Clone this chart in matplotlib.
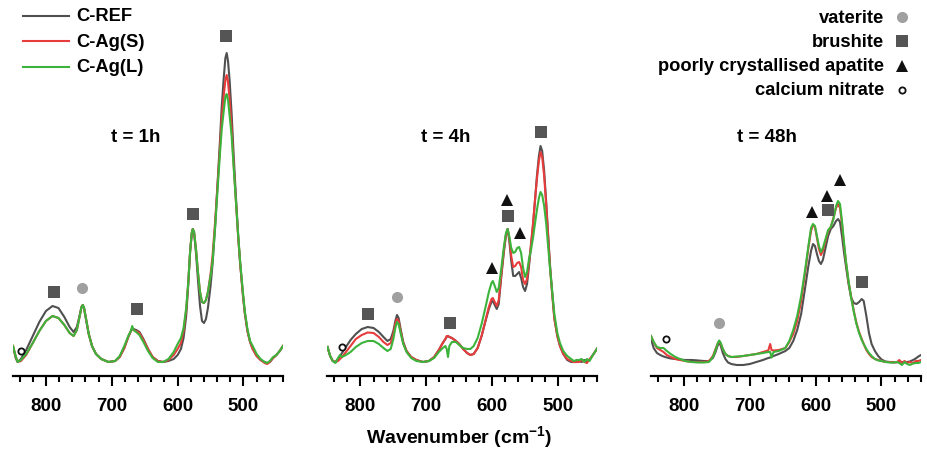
import numpy as np
import matplotlib
matplotlib.use('Agg')
import matplotlib.pyplot as plt
from matplotlib.ticker import MultipleLocator
from matplotlib.lines import Line2D

plt.rcParams['font.family'] = ['Liberation Sans', 'DejaVu Sans']
plt.rcParams['font.weight'] = 'bold'
plt.rcParams['mathtext.fontset'] = 'custom'
plt.rcParams['mathtext.rm'] = 'Liberation Sans:bold'
plt.rcParams['mathtext.bf'] = 'Liberation Sans:bold'

# ---- data: wavenumber (cm-1) and intensity (a.u.) for each panel ----
wn_1h = [850, 846, 843, 838, 830, 820, 810, 800, 790, 781, 772, 764, 758, 753, 749, 746, 744, 742,
         739, 735, 730, 724, 716, 705, 695, 688, 681, 675, 671, 669, 667, 663, 658, 652, 645, 638,
         630, 622, 614, 606, 600, 595, 591, 587, 584, 581, 578.5, 577, 575, 572, 569, 566, 563, 560,
         557, 554, 550, 547, 543, 540, 536, 533, 530, 527.5, 525.5, 523.5, 521, 518, 515, 512, 508,
         505, 501, 498, 494, 490, 486, 480, 474, 468, 464, 460, 455, 450, 445, 440]
ref_1h = [30, 18, 14, 17, 26, 40, 54, 65, 70, 68, 59, 49, 44, 49, 60, 69, 71, 67,
          56, 42, 30, 22, 17, 14, 15, 19, 28, 39, 45, 48, 47, 46, 44, 37, 27, 19,
          15, 14, 15, 17, 21, 27, 38, 60, 90, 125, 143, 147, 143, 122, 95, 70, 55, 53,
          57, 68, 90, 112, 150, 185, 232, 270, 298, 318, 323, 315, 295, 262, 222, 185, 140,
          112, 82, 63, 45, 34, 27, 20, 16, 14, 13, 14, 18, 21, 25, 30]
agS_1h = [30, 20, 14, 15, 21, 33, 45, 55, 60, 58, 51, 43, 40, 46, 59, 69, 71, 68,
          57, 42, 30, 22, 17, 14, 15, 19, 28, 39, 45, 47, 46, 45, 43, 36, 27, 19,
          15, 14, 16, 21, 27, 33, 45, 66, 92, 125, 143, 147, 144, 126, 103, 84, 74, 73,
          76, 84, 102, 120, 155, 185, 225, 258, 280, 296, 301, 294, 276, 248, 212, 180, 138,
          112, 82, 63, 45, 34, 27, 20, 16, 13, 12, 14, 18, 21, 25, 30]
agL_1h = [30, 20, 14, 16, 22, 33, 45, 55, 60, 58, 51, 43, 40, 46, 59, 69, 71, 68,
          57, 42, 30, 22, 17, 14, 15, 20, 30, 40, 45, 50, 46, 44, 41, 34, 25, 18,
          14, 14, 17, 24, 32, 38, 48, 68, 92, 125, 143, 147, 144, 126, 103, 84, 74, 73,
          76, 84, 100, 114, 150, 180, 220, 247, 265, 279, 282, 276, 260, 240, 210, 180, 140,
          114, 85, 65, 47, 35, 30, 22, 17, 14, 13, 15, 19, 21, 25, 30]

wn_4h = [850, 846, 842, 838, 834, 831, 828, 822, 815, 807, 798, 789, 780, 772, 765, 759, 754, 750,
         747, 744.5, 742, 739, 735, 730, 723, 715, 705, 696, 688, 681, 675, 671, 669, 667, 665, 661,
         655, 650, 644, 638, 633, 628, 622, 616, 610, 605, 601, 599, 596, 593, 590, 586, 582, 579,
         576.5, 574, 571, 568, 565, 562, 559, 556, 553, 550, 547, 544, 541, 538, 535, 532, 529,
         526.5, 524, 521, 518, 515, 512, 509, 505.5, 501, 497, 492, 486, 480, 476, 472, 468, 464,
         460, 456, 452, 448, 444, 440]
ref_4h = [29, 20, 15, 14, 17, 20, 23, 29, 36, 42, 47, 49, 48, 44, 39, 35, 37, 45,
          55, 61, 58, 47, 34, 25, 19, 16, 14, 15, 19, 26, 33, 37, 39, 40, 39, 38,
          35, 32, 27, 23, 21, 22, 28, 40, 55, 67, 74, 75, 71, 67, 72, 100, 125, 141,
          147, 136, 115, 100, 100, 102, 104, 98, 89, 85, 92, 110, 130, 150, 175, 200, 220,
          230, 225, 205, 175, 142, 110, 85, 58, 40, 30, 22, 16, 14, 14, 14, 15, 14,
          16, 15, 16, 20, 24, 28]
agS_4h = [29, 20, 15, 14, 15, 17, 19, 24, 30, 37, 41, 43.5, 43, 39, 34, 31, 33, 42,
          52, 57, 55, 45, 33, 25, 19, 16, 14, 15, 19, 26, 33, 37, 40, 40, 39, 38,
          35, 32, 27, 23, 21, 22, 28, 40, 56, 69, 77, 78, 74, 70, 76, 102, 127, 141,
          147, 138, 120, 109, 110, 113, 114, 109, 96, 92, 97, 113, 132, 152, 175, 197, 215,
          224, 219, 200, 172, 140, 108, 83, 57, 40, 30, 22, 17, 15, 14, 14, 14, 16,
          14, 13, 17, 20, 24, 28]
agL_4h = [29, 20, 15, 13, 18, 21, 19, 21, 24, 29, 33, 35, 35, 32, 28, 25, 27, 37,
          48, 54, 52, 43, 32, 24, 18, 15, 14, 15, 18, 24, 28, 30, 27, 19, 30, 34,
          34, 31, 28, 27, 27, 30, 38, 52, 69, 84, 93, 95, 90, 84, 88, 108, 130, 143,
          147, 140, 128, 123, 124, 128, 129, 123, 108, 99, 104, 117, 126, 138, 152, 166, 178,
          184, 181, 170, 153, 130, 107, 86, 62, 43, 33, 25, 20, 17, 15, 16, 16, 17,
          14, 17, 15, 20, 24, 28]

wn_48h = [850, 846, 841, 836, 831, 826, 820, 813, 806, 798, 788, 778, 770, 762, 756, 752, 749, 746.5,
          744, 741, 737, 733, 728, 720, 710, 700, 690, 680, 672, 669, 667, 664, 656, 646, 640, 634,
          628, 622, 616, 611, 607, 604, 601, 598, 595, 592, 589, 585, 581, 577, 573, 569, 566, 563,
          560, 557, 554, 550, 546, 542, 538, 534, 530, 527, 523, 519, 515, 510, 505, 500, 494, 488,
          482, 477, 473, 469, 465, 461, 457, 452, 448, 444, 440]
ref_48h = [37, 28, 23, 21, 19.5, 18.5, 17.5, 17, 16.5, 16, 16, 15.5, 15, 15, 18, 24, 30, 34,
           30, 23, 17, 13.5, 12, 11, 11, 12, 14, 16, 18, 18.5, 19, 20, 22, 25, 28, 35,
           46, 62, 88, 110, 125, 132, 130, 122, 115, 112, 116, 128, 140, 147, 150, 155, 157, 154,
           140, 124, 110, 92, 78, 73, 72, 74, 77, 75, 60, 43, 32, 25, 20, 16.5, 14.5, 14,
           13.5, 14, 14, 14, 13.5, 14, 14.5, 16, 17.5, 19.5, 21]
agS_48h = [40, 34, 28, 26, 24, 21, 19, 17, 16, 15, 14, 14, 14, 15, 20, 27, 32, 35,
           32, 27, 22, 20, 19, 19, 20, 21, 22, 24, 25.5, 32, 26, 25.5, 26, 28, 34, 42,
           55, 75, 103, 128, 145, 151, 149, 138, 127, 121, 125, 135, 145, 149, 158, 168, 172, 168,
           152, 132, 114, 94, 79, 65, 53, 44, 37, 32, 26, 22, 19, 17, 16, 15, 14, 14,
           14, 13.5, 16, 13, 15, 13, 14, 13, 15, 15, 16]
agL_48h = [40, 34, 29, 28, 28, 25, 22, 19, 17, 15, 14, 13.5, 13.5, 14, 19, 26, 32, 35.5,
           33, 27, 22, 20, 19, 19.5, 20, 21, 22, 23, 24, 24, 18.5, 24, 25, 28, 35, 46,
           60, 80, 106, 130, 148, 152, 150, 140, 130, 124, 128, 137, 146, 149, 157, 170, 175, 172,
           155, 134, 115, 95, 78, 64, 52, 43, 36, 32, 27, 23, 20, 17, 15.5, 15, 14, 13.5,
           13.5, 14, 13, 11, 14, 12, 11, 12.5, 13, 13, 14]

# phase markers: (wavenumber, height)
brushite = [[(787, 84), (662, 67), (577, 162), (526.5, 340)],
            [(788, 62), (664, 53), (576.3, 160), (526.2, 244)],
            [(580.6, 166), (529.3, 94)]]
vaterite = [[(744.7, 88)], [(744, 79)], [(746.2, 53)]]
apatite = [[], [(599.7, 108), (577.8, 176), (557.6, 143)],
           [(605.9, 164), (583, 180), (562.7, 196)]]
nitrate = [[(838, 25)], [(828.4, 29)], [(827.6, 37)]]

panel_titles = ['t = 1h', 't = 4h', 't = 48h']
title_wn = [663, 671, 674]
series_names = ['C-REF', 'C-Ag(S)', 'C-Ag(L)']
series_colors = ['#505050', '#e83c3c', '#3cb43c']
phase_names = ['vaterite', 'brushite', 'poorly crystallised apatite', 'calcium nitrate']

panels = [(wn_1h, [ref_1h, agS_1h, agL_1h]),
          (wn_4h, [ref_4h, agS_4h, agL_4h]),
          (wn_48h, [ref_48h, agS_48h, agL_48h])]

W, H = 928, 452
fig = plt.figure(figsize=(W / 100, H / 100), dpi=100)
lefts = [13, 327.5, 651]
axw = 270
ax_bottom = 377

sq_color = '#555555'
for i, (wn, ys) in enumerate(panels):
    ax = fig.add_axes([lefts[i] / W, (H - ax_bottom) / H, axw / W, ax_bottom / H])
    for y, c in zip(ys, series_colors):
        ax.plot(wn, y, color=c, lw=1.5)
    for (x, y) in brushite[i]:
        ax.plot(x, y, 's', color=sq_color, ms=8, mew=0)
    for (x, y) in vaterite[i]:
        ax.plot(x, y, 'o', color='#a0a0a0', ms=8, mew=0)
    for (x, y) in apatite[i]:
        ax.plot(x, y, '^', color='#111111', ms=9, mew=0)
    for (x, y) in nitrate[i]:
        ax.plot(x, y, 'o', mfc='white', mec='#111111', ms=4.5, mew=1.3)
    ax.set_xlim(850, 440)
    ax.set_ylim(0, ax_bottom)
    for s in ['left', 'right', 'top']:
        ax.spines[s].set_visible(False)
    ax.spines['bottom'].set_linewidth(1.6)
    ax.set_yticks([])
    ax.xaxis.set_major_locator(MultipleLocator(100))
    ax.xaxis.set_minor_locator(MultipleLocator(20))
    ax.tick_params(axis='x', which='major', length=7, width=1.5, labelsize=13.5, pad=8)
    ax.tick_params(axis='x', which='minor', length=4.5, width=1.5)
    for lab in ax.get_xticklabels():
        lab.set_fontweight('bold')
    ax.text(title_wn[i], 239, panel_titles[i], ha='center', va='center',
            fontsize=13.5, fontweight='bold')
    ax.patch.set_alpha(0)

# overlay in pixel coordinates for legends and axis label
ov = fig.add_axes([0, 0, 1, 1])
ov.set_xlim(0, W)
ov.set_ylim(H, 0)
ov.axis('off')
ov.patch.set_alpha(0)

for k, (name, c) in enumerate(zip(series_names, series_colors)):
    yy = 16.7 + 25.5 * k
    ov.add_line(Line2D([22.7, 69.3], [yy, yy], color=c, lw=1.5))
    ov.text(76.7, yy, name, ha='left', va='center', fontsize=13.2, fontweight='bold')

phase_style = [dict(marker='o', color='#a0a0a0', ms=8, mew=0),
               dict(marker='s', color=sq_color, ms=8, mew=0),
               dict(marker='^', color='#111111', ms=9, mew=0),
               dict(marker='o', mfc='white', mec='#111111', ms=4.5, mew=1.3)]
for k, (name, st) in enumerate(zip(phase_names, phase_style)):
    yy = 18.3 + 24.1 * k
    ov.text(884, yy, name, ha='right', va='center', fontsize=13.2, fontweight='bold')
    ov.plot([901.7], [yy], linestyle='none', **st)

ov.text(459, 438, r'Wavenumber (cm$^{\mathbf{-1}}$)', ha='center', va='center',
        fontsize=14, fontweight='bold')

fig.savefig('out.png', dpi=100)
